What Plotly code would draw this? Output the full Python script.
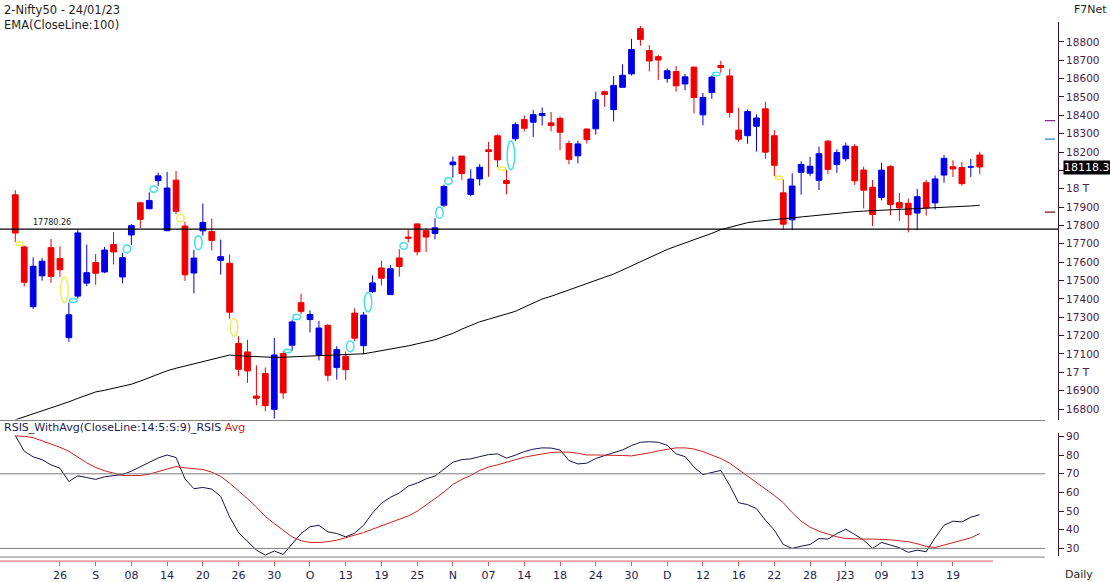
import plotly.graph_objects as go

# ---------------- data ----------------
dates = ["2022-08-19","2022-08-22","2022-08-23","2022-08-24","2022-08-25","2022-08-26","2022-08-29","2022-08-30",
         "2022-09-01","2022-09-02","2022-09-05","2022-09-06","2022-09-07","2022-09-08","2022-09-09","2022-09-12",
         "2022-09-13","2022-09-14","2022-09-15","2022-09-16","2022-09-19","2022-09-20","2022-09-21","2022-09-22",
         "2022-09-23","2022-09-26","2022-09-27","2022-09-28","2022-09-29","2022-09-30",
         "2022-10-03","2022-10-04","2022-10-06","2022-10-07","2022-10-10","2022-10-11","2022-10-12","2022-10-13",
         "2022-10-14","2022-10-17","2022-10-18","2022-10-19","2022-10-20","2022-10-21","2022-10-24","2022-10-25",
         "2022-10-27","2022-10-28","2022-10-31",
         "2022-11-01","2022-11-02","2022-11-03","2022-11-04","2022-11-07","2022-11-09","2022-11-10","2022-11-11",
         "2022-11-14","2022-11-15","2022-11-16","2022-11-17","2022-11-18","2022-11-21","2022-11-22","2022-11-23",
         "2022-11-24","2022-11-25","2022-11-28","2022-11-29","2022-11-30",
         "2022-12-01","2022-12-02","2022-12-05","2022-12-06","2022-12-07","2022-12-08","2022-12-09","2022-12-12",
         "2022-12-13","2022-12-14","2022-12-15","2022-12-16","2022-12-19","2022-12-20","2022-12-21","2022-12-22",
         "2022-12-23","2022-12-26","2022-12-27","2022-12-28","2022-12-29","2022-12-30",
         "2023-01-02","2023-01-03","2023-01-04","2023-01-05","2023-01-06","2023-01-09","2023-01-10","2023-01-11",
         "2023-01-12","2023-01-13","2023-01-16","2023-01-17","2023-01-18","2023-01-19","2023-01-20","2023-01-23",
         "2023-01-24"]

opens = [17966.55,17682.90,17357.35,17525.45,17679.00,17619.30,17188.65,17414.95,17485.70,17598.40,
         17546.45,17695.70,17519.40,17748.15,17923.35,17890.85,18044.45,17771.15,18046.60,17796.80,
         17540.65,17770.40,17766.50,17609.65,17593.85,17156.30,17110.90,16870.55,16993.60,16798.05,
         17102.10,17147.45,17379.25,17287.20,17094.35,17256.05,17025.55,17087.35,17322.30,17144.80,
         17438.75,17568.15,17423.10,17622.85,17736.35,17808.30,17771.40,17756.40,17910.20,18130.70,
         18177.90,17968.35,18053.40,18211.75,18288.25,18044.35,18272.35,18376.40,18362.75,18398.25,
         18358.70,18382.95,18246.40,18179.15,18325.20,18326.10,18528.45,18430.55,18552.45,18625.45,
         18871.95,18752.40,18719.55,18600.65,18638.85,18570.85,18662.45,18402.30,18524.40,18671.25,
         18614.40,18319.10,18288.80,18340.30,18435.20,18288.65,17977.65,17830.40,18089.80,18084.75,
         18045.70,18259.10,18131.70,18163.20,18230.65,18101.95,18008.05,17952.55,18121.30,17924.25,
         17920.85,17867.50,18033.15,17922.80,18074.30,18119.80,18115.60,18118.45,18183.95]

highs = [17992.20,17690.05,17625.55,17623.65,17726.50,17685.85,17380.15,17777.65,17695.60,17643.85,
         17683.15,17764.65,17650.75,17807.00,17925.95,17980.55,18088.30,18091.55,18096.15,17820.05,
         17667.20,17919.30,17838.55,17722.75,17642.15,17196.40,17176.45,17037.60,17026.05,17187.10,
         17114.65,17287.30,17428.80,17337.35,17280.15,17261.80,17142.35,17112.35,17348.55,17328.55,
         17527.80,17607.60,17584.15,17670.15,17777.55,17811.50,17783.90,17838.90,18022.80,18175.80,
         18178.75,18106.30,18135.10,18255.50,18296.40,18103.10,18362.30,18399.45,18427.95,18442.15,
         18417.60,18394.60,18262.30,18261.85,18325.40,18529.70,18534.90,18614.25,18678.10,18816.05,
         18887.60,18781.95,18728.60,18654.90,18668.30,18625.00,18664.40,18521.35,18617.35,18696.10,
         18652.90,18440.95,18431.65,18404.90,18473.35,18318.75,18050.45,18084.10,18149.25,18173.10,
         18229.70,18265.25,18215.15,18251.95,18243.00,18120.30,18047.40,18141.40,18127.60,17976.35,
         17945.80,17999.35,18049.65,18072.05,18183.75,18155.20,18145.45,18162.60,18201.25]

lows = [17710.75,17467.35,17345.20,17499.25,17487.45,17519.35,17166.20,17401.50,17468.45,17476.45,
        17540.35,17587.65,17484.30,17693.00,17786.00,17889.15,18015.45,17771.15,17861.50,17497.25,
        17429.70,17744.40,17663.60,17532.45,17291.65,16978.30,16942.35,16820.40,16788.60,16747.70,
        16855.55,17117.30,17315.65,17216.95,17064.70,16950.30,16960.05,16956.95,17169.75,17098.55,
        17434.05,17472.85,17421.00,17520.75,17707.40,17637.00,17654.50,17723.70,17899.90,18060.15,
        18048.65,17959.20,18017.15,18064.75,18117.50,17969.40,18259.35,18311.40,18282.00,18344.15,
        18312.65,18209.80,18133.35,18137.70,18246.00,18294.25,18445.10,18365.60,18552.35,18616.55,
        18778.20,18639.20,18591.35,18577.90,18528.40,18536.95,18410.10,18345.70,18490.10,18632.10,
        18387.70,18255.15,18244.55,18202.65,18162.75,18068.60,17779.50,17774.25,17967.45,18068.35,
        17992.80,18080.30,18086.50,18149.80,18020.60,17892.60,17795.55,17936.15,17856.00,17824.35,
        17761.65,17774.25,17853.65,17886.95,18032.45,18063.75,18016.20,18063.45,18078.65]

closes = [17758.45,17490.70,17577.50,17604.95,17522.45,17558.90,17312.90,17759.30,17542.80,17539.45,
          17665.80,17655.60,17624.40,17798.75,17833.35,17936.35,18070.05,18003.75,17877.40,17530.85,
          17622.25,17816.25,17718.35,17629.80,17327.35,17016.30,17007.40,16858.60,16818.10,17094.35,
          16887.35,17274.30,17331.80,17314.65,17241.00,16983.55,17123.60,17014.35,17185.70,17311.80,
          17486.95,17512.25,17563.95,17576.30,17730.75,17656.35,17736.95,17786.80,18012.20,18145.40,
          18082.85,18052.70,18117.15,18202.80,18157.00,18028.20,18349.70,18329.15,18403.40,18409.65,
          18343.90,18307.65,18159.95,18244.20,18267.25,18484.10,18512.75,18562.75,18618.05,18758.35,
          18812.50,18696.10,18701.05,18642.75,18560.50,18609.35,18496.60,18497.15,18608.00,18660.30,
          18414.90,18269.00,18420.45,18385.30,18199.10,18127.35,17806.80,18014.60,18132.30,18122.50,
          18191.00,18105.30,18197.45,18232.55,18042.95,17992.15,17859.45,18101.20,17914.15,17895.70,
          17858.20,17956.60,17894.85,18053.30,18165.35,18107.85,18027.65,18118.55,18118.30]

ema100 = [16741,16757,16775,16791,16808,16825,16839,16858,16876,16893,
          16902,16913,16925,16935,16952,16971,16990,17008,17022,17034,
          17046,17057,17071,17085,17094,17090,17087,17084,17082,17081,
          17082,17084,17085,17087,17089,17090,17092,17094,17095,17101,
          17109,17117,17125,17133,17144,17155,17166,17177,17195,17212,
          17235,17255,17275,17289,17304,17318,17332,17355,17377,17399,
          17414,17432,17450,17468,17482,17500,17518,17535,17558,17581,
          17604,17627,17650,17669,17687,17704,17722,17739,17757,17777,
          17790,17804,17815,17822,17827,17833,17838,17841,17846,17851,
          17856,17860,17865,17870,17875,17878,17880,17883,17886,17888,
          17889,17891,17892,17895,17898,17900,17903,17906,17910]

rsi = [90.5,82.1,79.1,77.6,74.8,73.0,65.9,68.9,68.0,67.0,
       68.4,69.1,69.6,71.4,73.7,76.2,78.5,80.1,78.7,67.3,
       62.0,62.7,61.8,57.9,46.9,38.5,33.6,29.1,26.4,28.6,
       26.8,32.1,38.0,41.6,42.4,38.9,38.0,36.2,38.2,42.4,
       49.0,54.2,57.4,59.7,63.4,65.0,67.3,68.8,72.3,76.2,
       77.6,78.0,79.2,80.3,80.7,78.4,80.0,81.9,83.2,83.9,
       83.8,82.8,77.1,75.3,75.7,78.2,79.8,81.2,82.8,85.1,
       86.9,87.2,86.9,85.3,80.7,79.2,73.6,69.6,70.5,71.8,
       63.8,54.5,53.5,51.3,45.1,39.8,32.1,30.0,31.2,32.1,
       35.3,35.0,38.0,40.3,37.5,34.4,30.0,33.2,31.8,30.4,
       27.9,29.1,28.2,35.7,42.4,44.6,44.2,46.7,48.1]

rsi_avg = [90.3,90.1,89.4,87.8,85.8,84.2,82.1,78.9,75.9,73.4,
           71.6,70.4,69.1,69.1,69.1,69.8,71.2,72.3,73.9,73.2,
           72.7,72.3,70.9,68.6,65.0,61.1,56.7,52.2,47.2,43.3,
           39.8,36.2,34.1,33.2,33.2,33.6,34.4,35.7,36.8,38.5,
           40.3,42.1,43.9,45.6,47.4,49.9,53.1,56.7,60.2,64.3,
           67.0,69.1,71.8,73.6,74.8,76.2,77.6,78.9,79.8,80.7,
           81.4,81.7,81.6,81.0,80.1,80.1,80.1,80.1,79.8,79.6,
           80.3,81.2,82.3,83.3,83.9,83.9,83.3,81.9,80.1,78.2,
           75.7,72.3,68.8,65.6,62.0,58.4,54.5,49.2,44.6,41.4,
           39.2,37.5,36.2,35.3,35.0,35.0,35.0,35.0,34.6,34.1,
           33.6,32.5,31.1,30.5,31.8,33.0,34.3,35.7,38.0]

x_tick_labels = ["26","S","08","14","20","26","30","O","13","19","25","N","07","14",
                 "18","24","30","D","12","16","22","28","J23","09","13","19"]
first_tick_index = 5
tick_step = 4

price_tick_values = [16800,16900,17000,17100,17200,17300,17400,17500,17600,17700,17800,
                     17900,18000,18100,18200,18300,18400,18500,18600,18700,18800]
# the 18100 label sits under the last-price box in the original, so it is left blank
price_tick_labels = ["16800","16900","17 T","17100","17200","17300","17400","17500","17600","17700","17800",
                     "17900","18 T","","18200","18300","18400","18500","18600","18700","18800"]
rsi_tick_values = [30, 40, 50, 60, 70, 80, 90]
rsi_levels = [70, 30]

ref_level = 17780.26
last_close = 18118.3
side_mark_levels = [18371, 18270, 17872]
side_mark_colors = ["#8b2a8b", "#2e86d6", "#7a1414"]

# ---------------- layout geometry ----------------
W, H = 1110, 582
def pxx(p): return p / W
def pxy(p): return 1 - p / H

BLUE = "#0000e8"
RED = "#f00000"
AXIS_COL = "#3c1233"
TICK_COL = "#4d2247"
FONT = "DejaVu Sans"

n = len(dates)
xs = list(range(n))
x_left_px, x_right_px = 0, 1058
c0_px, step_px = 15.3, 8.93
x_range = [(x_left_px - c0_px) / step_px, (x_right_px - c0_px) / step_px]

# price panel
p_top_px, p_bot_px = 20, 419
p_ref_px, p_ref_val, p_scale = 40, 18800, 0.1842
p_range = [p_ref_val - (p_bot_px - p_ref_px) / p_scale, p_ref_val + (p_ref_px - p_top_px) / p_scale]
# rsi panel
r_top_px, r_bot_px = 432, 556
r_scale = (548.3 - 436) / 60.0
r_range = [30 - (r_bot_px - 548.3) / r_scale, 90 + (436 - r_top_px) / r_scale]

tick_idx = [first_tick_index + tick_step * k for k in range(len(x_tick_labels))]

fig = go.Figure()
fig.add_trace(go.Candlestick(
    x=xs, open=opens, high=highs, low=lows, close=closes,
    increasing=dict(line=dict(color=BLUE, width=1), fillcolor=BLUE),
    decreasing=dict(line=dict(color=RED, width=1), fillcolor=RED),
    whiskerwidth=0, xaxis="x", yaxis="y", showlegend=False, hoverinfo="skip"))
fig.add_trace(go.Scatter(x=xs, y=ema100, mode="lines", line=dict(color="#000000", width=1),
                         xaxis="x", yaxis="y", showlegend=False, hoverinfo="skip"))
fig.add_trace(go.Scatter(x=xs, y=rsi, mode="lines", line=dict(color="#14144e", width=1),
                         xaxis="x2", yaxis="y2", showlegend=False, hoverinfo="skip"))
fig.add_trace(go.Scatter(x=xs, y=rsi_avg, mode="lines", line=dict(color="#cc2020", width=1),
                         xaxis="x2", yaxis="y2", showlegend=False, hoverinfo="skip"))

shapes = []
# reference horizontal line
shapes.append(dict(type="line", xref="paper", yref="y", x0=0, x1=pxx(x_right_px), y0=ref_level, y1=ref_level,
                   line=dict(color="#000000", width=1.2)))
# gap ellipses
half_w = 0.42
min_h = 3.5 / p_scale
for i in range(1, n):
    lo = hi = None
    col = None
    if lows[i] > highs[i - 1]:
        lo, hi, col = highs[i - 1], lows[i], "#42dfee"
    elif highs[i] < lows[i - 1]:
        lo, hi, col = highs[i], lows[i - 1], "#f2ee55"
    if col:
        if hi - lo < min_h:
            mid = (hi + lo) / 2
            lo, hi = mid - min_h / 2, mid + min_h / 2
        shapes.append(dict(type="circle", xref="x", yref="y", x0=i - 0.5 - half_w, x1=i - 0.5 + half_w,
                           y0=lo, y1=hi, line=dict(color=col, width=1.5)))
# rsi panel lines
for lv in rsi_levels:
    shapes.append(dict(type="line", xref="paper", yref="y2", x0=0, x1=pxx(1045), y0=lv, y1=lv,
                       line=dict(color="#7d7d7d", width=1)))
for yp in (420, 557):
    shapes.append(dict(type="line", xref="paper", yref="paper", x0=0, x1=pxx(1045), y0=pxy(yp), y1=pxy(yp),
                       line=dict(color="#7d7d7d", width=1)))
# time axis line (red), up to the last bar
shapes.append(dict(type="line", xref="x2", yref="paper", x0=x_range[0], x1=n + 0.5, y0=pxy(561), y1=pxy(561),
                   line=dict(color="#e05a5a", width=1)))
# side markers on price axis
for lv, col in zip(side_mark_levels, side_mark_colors):
    shapes.append(dict(type="line", xref="paper", yref="y", x0=pxx(1045), x1=pxx(1055), y0=lv, y1=lv,
                       line=dict(color=col, width=1.3)))

annotations = [
    dict(text="2-Nifty50 - 24/01/23", xref="paper", yref="paper", x=pxx(2), y=pxy(8), xanchor="left",
         yanchor="middle", showarrow=False, font=dict(family=FONT, size=11.5, color="#1e1e1e")),
    dict(text="EMA(CloseLine:100)", xref="paper", yref="paper", x=pxx(2), y=pxy(23), xanchor="left",
         yanchor="middle", showarrow=False, font=dict(family=FONT, size=11.5, color="#1e1e1e")),
    dict(text="F7Net", xref="paper", yref="paper", x=pxx(1072), y=pxy(8), xanchor="left",
         yanchor="middle", showarrow=False, font=dict(family=FONT, size=11, color="#1e1e1e")),
    dict(text="Daily", xref="paper", yref="paper", x=pxx(1063), y=pxy(574), xanchor="left",
         yanchor="middle", showarrow=False, font=dict(family=FONT, size=11, color="#1e1e1e")),
    dict(text="%.2f" % ref_level, xref="paper", yref="y", x=pxx(31), y=ref_level, xanchor="left",
         yanchor="bottom", yshift=0, showarrow=False, font=dict(family=FONT, size=8, color="#111111")),
    dict(text="RSIS_WithAvg(CloseLine:14:5:S:9)_RSIS <span style='color:#d02020'>Avg</span>",
         xref="paper", yref="paper", x=pxx(2), y=pxy(427), xanchor="left", yanchor="middle",
         showarrow=False, font=dict(family=FONT, size=11, color="#1c1c5a")),
    dict(text="%.1f" % last_close, xref="paper", yref="y", x=pxx(1063), y=last_close, xanchor="left",
         yanchor="middle", showarrow=False, bgcolor="#000000", borderpad=0,
         font=dict(family=FONT, size=11, color="#ffffff")),
]

fig.update_layout(
    width=W, height=H, margin=dict(l=0, r=0, t=0, b=0),
    paper_bgcolor="#ffffff", plot_bgcolor="#ffffff",
    showlegend=False, hovermode=False, boxgap=0.36, boxgroupgap=0,
    shapes=shapes, annotations=annotations,
    xaxis=dict(domain=[0, pxx(x_right_px)], range=x_range, anchor="y", showticklabels=False,
               showgrid=False, zeroline=False, showline=False, ticks="", rangeslider=dict(visible=False),
               fixedrange=True),
    yaxis=dict(domain=[pxy(p_bot_px), pxy(p_top_px)], range=p_range, anchor="x", side="right",
               showgrid=False, zeroline=False, showline=True, linecolor=AXIS_COL, linewidth=1,
               ticks="outside", ticklen=5, tickcolor=AXIS_COL, tickwidth=1,
               tickvals=price_tick_values, ticktext=price_tick_labels,
               tickfont=dict(family=FONT, size=10.5, color=TICK_COL), fixedrange=True),
    xaxis2=dict(domain=[0, pxx(x_right_px)], range=x_range, anchor="free", position=pxy(561),
                showgrid=False, zeroline=False, showline=False,
                ticks="outside", ticklen=4, tickcolor="#e05a5a", tickwidth=1,
                tickvals=tick_idx, ticktext=x_tick_labels,
                tickfont=dict(family=FONT, size=11, color="#22224e"), fixedrange=True),
    yaxis2=dict(domain=[pxy(r_bot_px), pxy(r_top_px)], range=r_range, anchor="x2", side="right",
                showgrid=False, zeroline=False, showline=True, linecolor=AXIS_COL, linewidth=1,
                ticks="outside", ticklen=5, tickcolor=AXIS_COL, tickwidth=1,
                tickvals=rsi_tick_values, ticktext=[str(v) for v in rsi_tick_values],
                tickfont=dict(family=FONT, size=10.5, color=TICK_COL), fixedrange=True),
)

fig.write_html("out.html", config={"displayModeBar": False})
